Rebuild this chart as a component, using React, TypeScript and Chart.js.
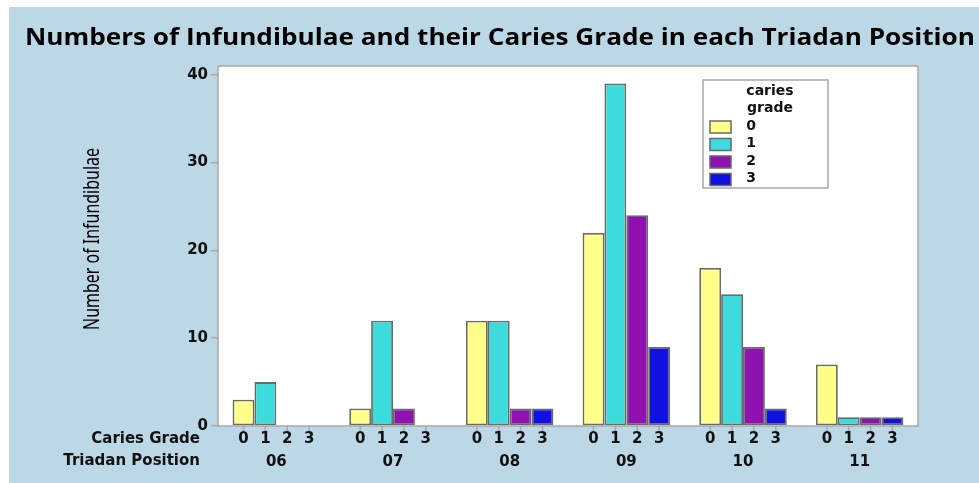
import React, { useEffect, useRef } from "react";
import { Chart, registerables } from "chart.js";

Chart.register(...registerables);

const titleText = "Numbers of Infundibulae and their Caries Grade in each Triadan Position";
const yTitleText = "Number of Infundibulae";
const categories = ["06", "07", "08", "09", "10", "11"];
const gradeLabels = ["0", "1", "2", "3"];
const yTickValues = [0, 10, 20, 30, 40];
const grade0 = [3, 2, 12, 22, 18, 7];
const grade1 = [5, 12, 12, 39, 15, 1];
const grade2 = [0, 2, 2, 24, 9, 1];
const grade3 = [0, 0, 2, 9, 2, 1];
const gradeColors = ["#ffff8a", "#3ddcdc", "#8f12b0", "#1010e0"];

const BG = "#bcd8e6";
const TEXT = "#111111";
const AXIS = "#a8a8a8";
const FONT = '"DejaVu Sans", sans-serif';

function drawScaledText(
  ctx: CanvasRenderingContext2D,
  text: string,
  x: number,
  y: number,
  font: string,
  targetWidth: number
) {
  ctx.save();
  ctx.font = font;
  const w = ctx.measureText(text).width;
  const s = targetWidth / w;
  ctx.translate(x, y);
  ctx.scale(s, 1);
  ctx.textAlign = "center";
  ctx.textBaseline = "middle";
  ctx.fillText(text, 0, 0);
  ctx.restore();
}

const decorPlugin = {
  id: "decor",
  beforeDraw(chart: any) {
    const { ctx, width, height, chartArea: ca } = chart;
    ctx.save();
    ctx.fillStyle = "#ffffff";
    ctx.fillRect(0, 0, width, height);
    ctx.fillStyle = BG;
    ctx.fillRect(9, 7, width - 9, height - 7);
    ctx.fillStyle = "#ffffff";
    ctx.fillRect(ca.left, ca.top, ca.right - ca.left, ca.bottom - ca.top);
    ctx.restore();
  },
  afterDatasetsDraw(chart: any) {
    const { ctx, chartArea: ca } = chart;
    ctx.save();
    // plot frame
    ctx.strokeStyle = AXIS;
    ctx.lineWidth = 1.5;
    ctx.strokeRect(ca.left, ca.top, ca.right - ca.left, ca.bottom - ca.top);

    // title
    ctx.fillStyle = "#000000";
    drawScaledText(ctx, titleText, 500, 38, 'bold 24px "Open Sans", sans-serif', 950);

    // y title (rotated)
    ctx.save();
    ctx.translate(93, 239);
    ctx.rotate(-Math.PI / 2);
    drawScaledText(ctx, yTitleText, 0, 0, '21px "Noto Sans", sans-serif', 182);
    ctx.restore();

    // per-bar ticks and grade labels
    ctx.font = "bold 15px " + FONT;
    ctx.textAlign = "center";
    ctx.textBaseline = "middle";
    chart.data.datasets.forEach((ds: any, i: number) => {
      const meta = chart.getDatasetMeta(i);
      meta.data.forEach((bar: any) => {
        ctx.strokeStyle = AXIS;
        ctx.lineWidth = 1.5;
        ctx.beginPath();
        ctx.moveTo(bar.x, ca.bottom);
        ctx.lineTo(bar.x, ca.bottom + 5);
        ctx.stroke();
        ctx.fillStyle = TEXT;
        ctx.fillText(gradeLabels[i], bar.x, ca.bottom + 13);
      });
    });

    // row labels
    ctx.textAlign = "right";
    ctx.fillStyle = TEXT;
    ctx.fillText("Caries Grade", 200, ca.bottom + 13);
    ctx.fillText("Triadan Position", 200, ca.bottom + 35);

    // legend
    const lx = ca.right - 215;
    const ly = ca.top + 14;
    const lw = 125;
    const lh = 108;
    ctx.fillStyle = "#ffffff";
    ctx.fillRect(lx, ly, lw, lh);
    ctx.strokeStyle = AXIS;
    ctx.lineWidth = 1.5;
    ctx.strokeRect(lx, ly, lw, lh);
    ctx.fillStyle = TEXT;
    ctx.font = "bold 14px " + FONT;
    ctx.textAlign = "center";
    ctx.fillText("caries", lx + 67, ly + 11);
    ctx.fillText("grade", lx + 67, ly + 28);
    chart.data.datasets.forEach((ds: any, i: number) => {
      const sy = ly + 41 + i * 17.5;
      ctx.fillStyle = ds.backgroundColor;
      ctx.fillRect(lx + 7, sy, 21, 12);
      ctx.strokeStyle = "#6a6a6a";
      ctx.lineWidth = 1.5;
      ctx.strokeRect(lx + 7, sy, 21, 12);
      ctx.fillStyle = TEXT;
      ctx.fillText(ds.label, lx + 48, sy + 5);
    });
    ctx.restore();
  },
};

export default function App() {
  const ref = useRef<HTMLCanvasElement | null>(null);
  useEffect(() => {
    document.body.style.margin = "0";
    const canvas = ref.current;
    if (!canvas) return;
    const series = [grade0, grade1, grade2, grade3];
    const chart = new Chart(canvas, {
      type: "bar",
      data: {
        labels: categories,
        datasets: series.map((d, i) => ({
          label: gradeLabels[i],
          data: d,
          backgroundColor: gradeColors[i],
          borderColor: "#6a6a6a",
          borderWidth: 1.8,
          borderSkipped: false,
          categoryPercentage: 0.75,
          barPercentage: 1,
        })),
      },
      options: {
        responsive: false,
        animation: false,
        devicePixelRatio: 1,
        layout: { padding: { top: 66, right: 61, bottom: 0, left: 0 } },
        plugins: {
          legend: { display: false },
          title: { display: false },
          tooltip: { enabled: false },
        },
        scales: {
          x: {
            grid: { display: false, drawTicks: false },
            border: { display: false },
            ticks: { font: { family: FONT, size: 15, weight: "bold" }, color: TEXT, padding: 27 },
            afterFit: (s: any) => {
              s.height = 57;
            },
          },
          y: {
            min: 0,
            max: 41,
            grid: { drawOnChartArea: false, drawTicks: true, tickLength: 7, color: AXIS, lineWidth: 1.5 },
            border: { display: false },
            afterBuildTicks: (s: any) => {
              s.ticks = yTickValues.map((v) => ({ value: v }));
            },
            ticks: {
              font: { family: FONT, size: 15, weight: "bold" },
              color: TEXT,
              padding: 3,
              callback: (v: any) => String(v),
            },
            afterFit: (s: any) => {
              s.width = 218;
            },
          },
        },
      },
      plugins: [decorPlugin],
    });
    return () => chart.destroy();
  }, []);
  return (
    <div style={{ width: 979, height: 483 }}>
      <canvas ref={ref} width={979} height={483} style={{ display: "block", width: 979, height: 483 }} />
    </div>
  );
}
